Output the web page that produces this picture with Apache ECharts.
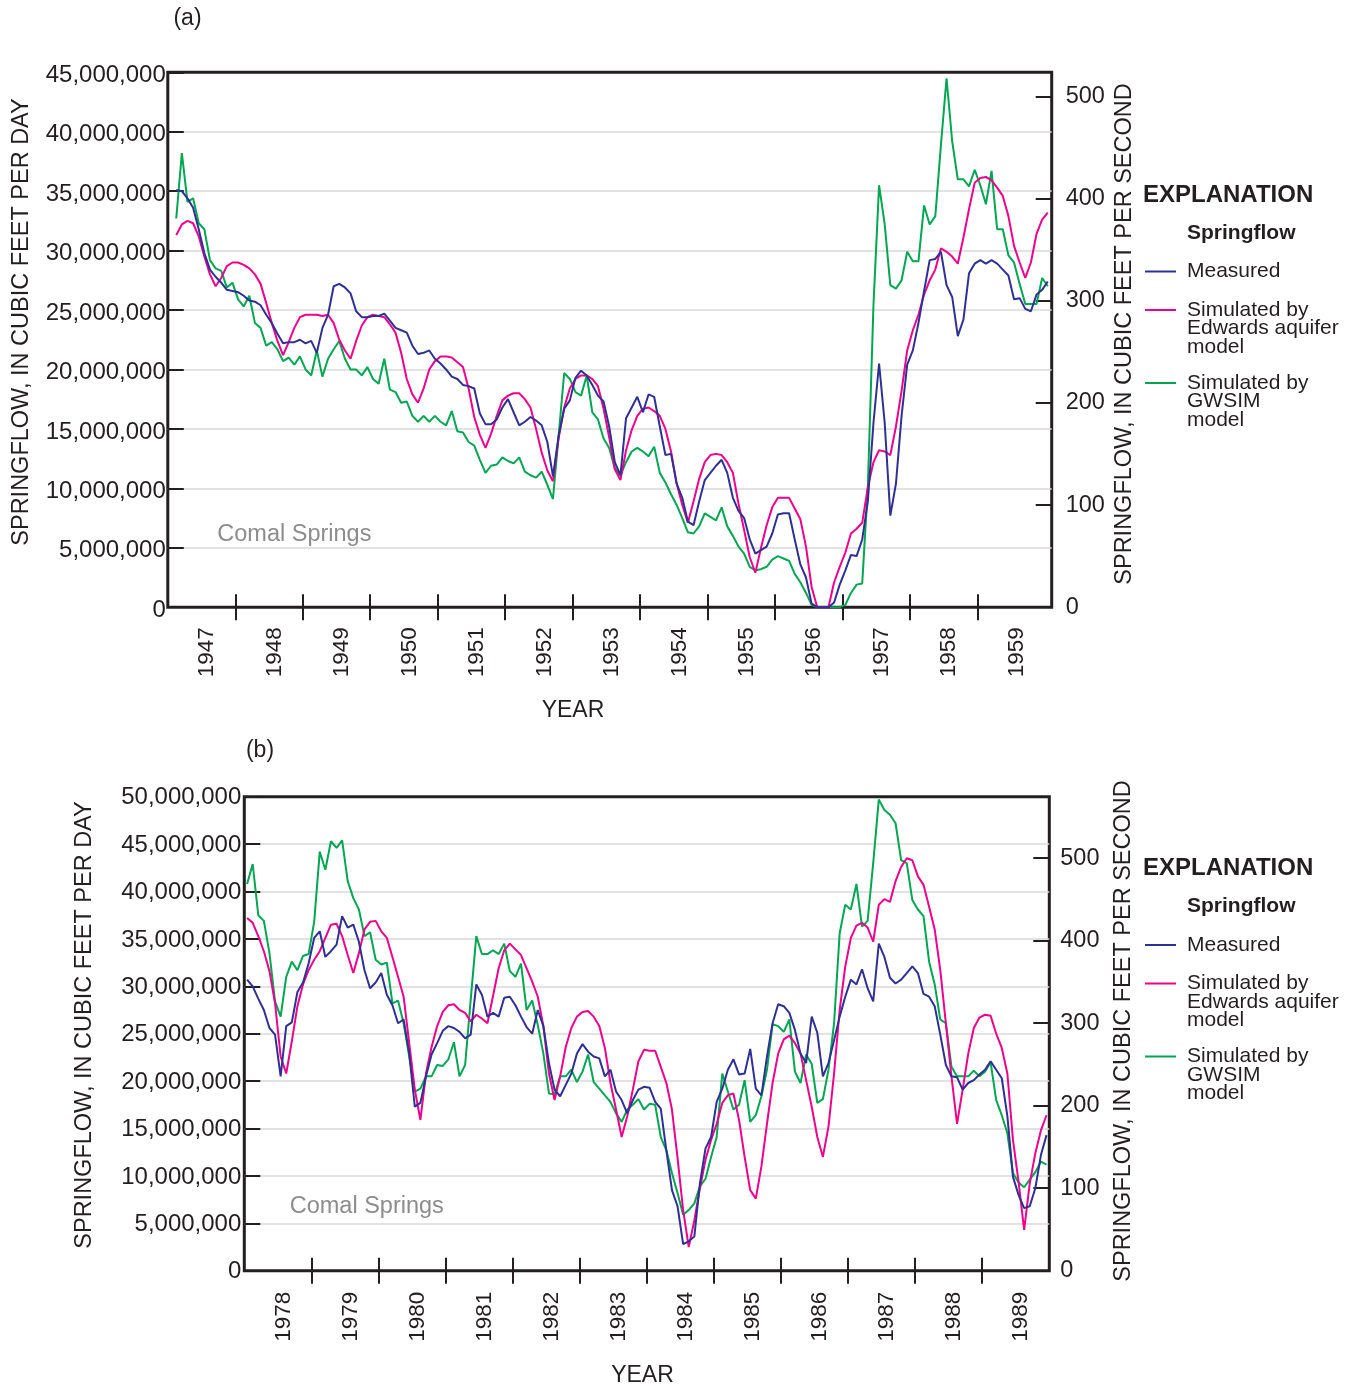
<!DOCTYPE html>
<html>
<head>
<meta charset="utf-8">
<script src="https://cdn.jsdelivr.net/npm/echarts@6.0.0/dist/echarts.min.js"></script>
<style>
html,body{margin:0;padding:0;background:#ffffff;}
#chart{width:1353px;height:1389px;}
</style>
</head>
<body>
<div id="chart"></div>
<script>
// ---------------- DATA (springflow, million cubic feet per day, monthly) ----------------
// Panel (a): Comal Springs, 1947-1959
const aYears = [1947,1948,1949,1950,1951,1952,1953,1954,1955,1956,1957,1958,1959];
const aStart = 1947 + 1.5 / 12;   // first monthly value (Feb 1947)
const aMeasured = [
35.1,35.0,34.4,33.6,31.8,29.8,28.4,27.8,27.3,26.7,26.6,26.5,26.2,25.8,25.7,25.4,24.6,23.9,23.0,22.2,
22.3,22.3,22.5,22.2,22.4,21.4,23.5,24.6,27.0,27.2,26.9,26.4,24.9,24.4,24.4,24.5,24.5,24.7,24.1,23.5,
23.3,23.1,22.0,21.3,21.4,21.6,20.9,20.5,20.0,19.4,19.2,18.7,18.6,18.4,16.3,15.4,15.4,15.8,16.8,17.5,
16.4,15.3,15.6,16.0,15.7,15.3,13.9,11.0,14.4,16.7,17.4,19.3,19.9,19.5,18.7,17.8,17.3,
15.2,12.2,11.1,15.9,16.8,17.7,16.4,17.9,17.7,15.2,12.8,12.9,10.4,9.2,7.2,6.9,8.9,10.7,11.3,11.9,
12.4,11.3,9.2,8.1,7.5,5.7,4.5,4.8,5.1,6.2,7.8,7.9,7.9,5.7,3.6,2.5,0.3,0,0,0,
0.4,1.9,3.1,4.4,4.3,5.7,8.9,15.5,20.5,15.5,7.7,10.4,16.1,20.4,21.6,23.9,26.6,29.2,29.3,29.9,
27.1,26.1,22.8,24.2,28.1,28.9,29.2,28.9,29.2,28.9,28.4,27.9,25.9,26.0,25.1,24.9,26.3,26.7,27.4
];
const aEdwards = [
31.3,32.2,32.5,32.3,31.2,29.5,28.0,27.0,27.7,28.7,29.0,29.0,28.8,28.5,28.0,27.2,25.6,23.9,22.4,21.2,
22.3,23.5,24.4,24.6,24.6,24.6,24.5,24.6,23.9,22.5,21.6,20.9,22.4,23.7,24.4,24.6,24.5,24.4,23.8,23.1,
21.4,19.2,17.9,17.2,18.4,20.0,20.7,21.1,21.1,21.0,20.6,20.2,18.4,16.0,14.5,13.4,14.6,16.1,17.4,17.8,
18.0,18.0,17.5,16.8,15.0,13.0,11.5,10.6,14.2,16.8,18.4,19.2,19.5,19.5,19.2,18.6,16.7,
14.3,11.6,10.7,13.2,14.9,16.1,16.7,16.8,16.5,16.1,15.0,13.1,10.4,8.6,7.1,8.9,10.8,12.2,12.8,12.9,
12.8,12.2,11.3,8.7,6.5,4.2,2.9,5.0,6.9,8.4,9.2,9.2,9.2,8.3,7.4,5.1,1.7,0,0,0,
2.1,3.4,4.6,6.2,6.6,7.1,10.1,12.2,13.2,13.1,12.8,15.2,18.2,21.6,23.3,24.6,26.3,27.5,28.4,30.2,
29.9,29.5,28.9,31.1,33.5,35.7,36.1,36.2,35.9,35.3,34.6,32.9,30.4,29.0,27.7,29.0,31.4,32.6,33.2
];
const aGwsim = [
32.7,38.2,34.1,34.4,32.3,31.8,29.2,28.5,28.3,26.9,27.3,25.9,25.3,26.2,23.9,23.5,22.0,22.3,21.7,20.7,
21.0,20.4,21.1,20.0,19.5,21.6,19.4,20.9,21.7,22.4,20.9,20.0,20.0,19.5,20.2,19.2,18.8,20.9,18.3,18.1,
17.2,17.3,16.1,15.6,16.1,15.6,16.1,15.6,15.3,16.5,14.8,14.7,13.9,13.6,12.4,11.3,11.9,12.0,12.6,12.3,
12.1,12.6,11.4,11.1,10.9,11.4,10.3,9.1,14.4,19.7,19.2,18.1,17.8,19.5,16.4,15.8,14.2,
13.4,11.7,11.1,12.2,13.1,13.4,13.1,12.7,13.5,11.3,10.5,9.5,8.6,7.5,6.3,6.2,6.8,7.9,7.6,7.3,
8.4,6.8,6.0,5.1,4.5,3.4,3.1,3.2,3.4,4.0,4.3,4.1,3.9,2.8,2.1,1.2,0.2,0,0,0,
0,0,0.2,1.2,1.9,2.0,10.1,25.4,35.5,32.2,27.1,26.8,27.5,29.9,29.1,29.1,33.8,32.2,32.9,38.9,
44.5,39.2,36.0,36.0,35.4,36.8,35.5,33.9,36.7,31.8,31.8,29.6,29.0,27.2,25.5,25.5,25.5,27.7,27.0
];

// Panel (b): Comal Springs, 1978-1989
const bYears = [1978,1979,1980,1981,1982,1983,1984,1985,1986,1987,1988,1989];
const bStart = 1978 + 0.5 / 12;   // first monthly value (Jan 1978)
const bMeasured = [
30.7,30.0,28.7,27.5,25.6,24.9,20.5,25.8,26.2,29.4,30.4,32.4,35.1,35.8,33.1,33.7,34.4,37.4,36.2,36.5,
34.7,31.7,29.8,30.4,31.4,29.1,28.0,26.1,26.5,22.9,17.3,17.7,20.5,22.8,24.0,25.3,25.8,25.6,25.2,24.5,
24.9,30.2,29.1,26.8,27.2,26.8,28.8,28.9,28.0,26.8,25.7,25.0,27.5,25.8,21.9,19.1,18.4,19.6,20.8,22.9,
23.9,23.1,22.6,22.4,20.5,21.2,18.9,18.0,16.6,18.0,19.1,19.4,19.3,17.8,17.1,12.7,8.5,6.8,2.8,3.1,
3.6,9.2,12.9,14.1,17.8,19.2,21.2,22.3,20.7,20.8,23.4,19.2,18.5,22.6,26.1,28.1,27.9,27.2,25.4,22.9,
21.9,26.8,25.1,20.5,21.9,24.3,26.8,28.9,30.7,30.2,31.8,29.8,28.4,34.5,33.1,30.9,30.3,30.7,31.4,32.1,
31.4,29.2,28.9,27.9,24.9,21.7,20.5,20.4,19.1,19.8,20.1,20.7,21.2,22.1,21.2,20.3,16.3,9.9,8.0,6.6,
6.8,8.7,12.2,14.3
];
const bEdwards = [
37.2,36.7,35.3,33.7,31.6,28.2,22.6,20.8,24.2,27.9,30.2,31.7,32.8,33.7,35.1,36.5,36.6,35.3,33.3,31.4,
33.5,36.0,36.8,36.9,35.8,35.1,33.1,31.0,28.9,24.0,19.1,15.9,20.8,23.6,25.8,27.3,28.0,28.1,27.5,27.2,
26.3,27.0,26.6,26.1,29.0,31.9,33.8,34.5,33.9,33.3,31.9,30.5,28.9,25.8,20.8,18.0,20.5,23.6,25.6,26.8,
27.3,27.4,26.8,25.8,23.5,19.8,17.0,14.1,16.3,19.1,22.1,23.3,23.2,23.2,21.5,19.8,17.0,11.9,6.4,2.5,
5.3,8.7,11.7,13.8,15.5,17.7,18.5,18.7,15.9,12.0,8.5,7.6,11.0,15.5,19.8,22.9,24.4,24.8,24.0,22.9,
20.1,17.3,14.1,12.0,15.2,20.8,27.5,32.1,35.1,36.4,36.7,36.2,34.7,38.6,39.2,38.9,41.1,42.6,43.5,43.3,
41.6,40.7,38.4,36.0,31.7,26.1,20.5,15.5,19.1,22.9,25.6,26.7,27.0,26.9,25.0,23.5,20.8,13.8,9.4,4.3,
9.2,12.4,14.8,16.4
];
const bGwsim = [
40.8,42.9,37.5,36.9,33.5,28.4,26.8,31.0,32.6,31.7,33.2,33.4,36.8,44.2,42.3,45.3,44.6,45.4,41.1,39.3,
38.1,35.3,35.7,32.8,32.3,32.5,28.2,28.5,26.1,22.6,18.9,19.2,20.5,20.5,21.7,21.6,22.3,24.1,20.5,21.7,
28.6,35.3,33.4,33.4,33.8,33.4,34.5,31.6,31.0,32.4,27.5,28.5,25.9,22.9,18.7,18.6,20.5,20.5,21.2,19.9,
21.0,22.8,19.9,19.2,18.5,17.8,16.6,15.7,17.0,17.5,18.1,17.0,17.6,17.5,14.1,12.7,10.3,8.2,5.9,6.4,
7.1,8.9,9.7,12.0,14.1,20.8,18.9,17.0,17.5,20.1,15.7,16.4,18.4,21.2,26.0,25.8,25.2,26.5,21.0,19.8,
22.8,21.8,17.7,18.1,21.2,26.1,35.6,38.6,38.1,40.8,36.3,36.9,43.0,49.7,48.6,48.1,47.2,43.3,43.0,39.1,
38.1,37.4,32.6,30.2,26.5,26.1,21.5,20.5,20.5,20.5,21.1,20.5,21.0,22.0,18.0,16.4,14.5,10.3,9.3,8.8,
9.6,10.4,11.5,11.2
];

const cfsTicks = [0, 100, 200, 300, 400, 500];           // cubic feet per second
const seriesNames = ['Measured', 'Simulated by Edwards aquifer model', 'Simulated by GWSIM model'];

// ---------------- STYLE ----------------
const FF = '"Liberation Sans", Arial, Helvetica, sans-serif';
const INK = '#231f20';
const COLORS = ['#2e3192', '#ec008c', '#00a651'];

function pairs(start, vals) { return vals.map((v, i) => [start + i / 12, v]); }
function commas(n) { return String(Math.round(n)).replace(/\B(?=(\d{3})+(?!\d))/g, ','); }

const panels = [
  { grid: { left: 167.8, top: 72.3, width: 883.9, height: 534.9 },
    xmin: 1947, xmax: 1960.1, years: aYears, ymax: 45, cfsMax: 523.5, start: aStart,
    data: [aMeasured, aEdwards, aGwsim], leftMargin: 2, leftDrop: 6, rightMargin: 14, yearMargin: 20 },
  { grid: { left: 244.3, top: 796.7, width: 805, height: 474 },
    xmin: 1978, xmax: 1990, years: bYears, ymax: 50, cfsMax: 574.5, start: bStart,
    data: [bMeasured, bEdwards, bGwsim], leftMargin: 3, leftDrop: 2, rightMargin: 11, yearMargin: 21 }
];

const grids = [], xAxes = [], yAxes = [], series = [];
panels.forEach((p, gi) => {
  grids.push(Object.assign({ show: true, borderColor: INK, borderWidth: 3, backgroundColor: 'transparent' }, p.grid));
  const tickYears = p.years.slice(1);
  const labelYears = p.years.map(y => y + 0.5);
  const tickStyle = { color: INK, width: 2 };
  // bottom axis: ticks at year boundaries, labels at mid-year
  xAxes.push({
    type: 'value', gridIndex: gi, position: 'bottom', min: p.xmin, max: p.xmax,
    axisLine: { show: false },
    axisTick: { show: true, inside: true, length: 13, lineStyle: tickStyle, customValues: tickYears },
    axisLabel: { show: true, customValues: labelYears, rotate: 90, margin: p.yearMargin,
      verticalAlign: 'top', lineHeight: 11,
      formatter: v => String(Math.floor(v)), color: INK, fontFamily: FF, fontSize: 22.5 },
    splitLine: { show: false }
  });
  // top axis: ticks only
  xAxes.push({
    type: 'value', gridIndex: gi, position: 'top', min: p.xmin, max: p.xmax,
    axisLine: { show: false },
    axisTick: { show: true, inside: true, length: 13, lineStyle: tickStyle, customValues: tickYears },
    axisLabel: { show: false },
    splitLine: { show: false }
  });
  // left axis: cubic feet per day
  yAxes.push({
    type: 'value', gridIndex: gi, position: 'left', min: 0, max: p.ymax, interval: 5,
    axisLine: { show: false },
    axisTick: { show: true, inside: true, length: 16, lineStyle: tickStyle },
    axisLabel: { margin: p.leftMargin, verticalAlign: 'top', lineHeight: p.leftDrop,
      formatter: v => commas(v * 1e6), color: INK, fontFamily: FF, fontSize: 24 },
    splitLine: { show: true, showMinLine: false, showMaxLine: false, lineStyle: { color: '#d8d8d8', width: 1.5 } }
  });
  // right axis: cubic feet per second
  yAxes.push({
    type: 'value', gridIndex: gi, position: 'right', min: 0, max: p.cfsMax,
    axisLine: { show: false },
    axisTick: { show: true, inside: true, length: 16, lineStyle: tickStyle, customValues: cfsTicks },
    axisLabel: { customValues: cfsTicks, margin: p.rightMargin, formatter: v => String(v), color: INK, fontFamily: FF, fontSize: 23.5 },
    splitLine: { show: false }
  });
  // series: draw GWSIM first, then Edwards, Measured on top
  [2, 1, 0].forEach(si => {
    series.push({
      type: 'line', name: seriesNames[si], xAxisIndex: gi * 2, yAxisIndex: gi * 2,
      data: pairs(p.start, p.data[si]), showSymbol: false, symbol: 'none',
      lineStyle: { color: COLORS[si], width: 2 }, itemStyle: { color: COLORS[si] },
      z: 3 + (2 - si), animation: false
    });
  });
});

// ---------------- TEXT / LEGEND (graphic) ----------------
function txt(text, x, y, opt) {
  opt = opt || {};
  const size = opt.size || 23;
  return {
    type: 'text', x: x, y: y, rotation: opt.rot || 0, z: 100,
    style: {
      text: text, fill: opt.color || INK,
      font: (opt.bold ? 'bold ' : '') + size + 'px ' + FF,
      align: opt.align || 'center', verticalAlign: opt.va || 'middle',
      textAlign: opt.align || 'center', textVerticalAlign: opt.va || 'middle',
      lineHeight: opt.lh || undefined
    }
  };
}
function legend(dy) {
  const els = [];
  els.push(txt('EXPLANATION', 1143, 195 + dy, { bold: true, size: 24, align: 'left' }));
  els.push(txt('Springflow', 1187, 233 + dy, { bold: true, size: 21, align: 'left' }));
  const rows = [
    { y: 271.5, text: 'Measured' },
    { y: 310, text: 'Simulated by\nEdwards aquifer\nmodel' },
    { y: 383, text: 'Simulated by\nGWSIM\nmodel' }
  ];
  rows.forEach((r, i) => {
    els.push({ type: 'line', z: 100, shape: { x1: 1145, y1: r.y + dy, x2: 1176, y2: r.y + dy },
      style: { stroke: COLORS[i], lineWidth: 2 } });
    els.push(txt(r.text, 1187, r.y + dy - 9.2, { size: 21, align: 'left', va: 'top', lh: 18.4 }));
  });
  return els;
}
const graphics = [
  txt('(a)', 187.5, 19),
  txt('(b)', 260, 751),
  txt('SPRINGFLOW, IN CUBIC FEET PER DAY', 22, 322, { rot: Math.PI / 2, size: 23.5 }),
  txt('SPRINGFLOW, IN CUBIC FEET PER SECOND', 1125, 334, { rot: Math.PI / 2, size: 23.5 }),
  txt('YEAR', 573, 710.5),
  txt('SPRINGFLOW, IN CUBIC FEET PER DAY', 84.5, 1025, { rot: Math.PI / 2, size: 23.5 }),
  txt('SPRINGFLOW, IN CUBIC FEET PER SECOND', 1124, 1031, { rot: Math.PI / 2, size: 23.5 }),
  txt('YEAR', 642.5, 1376),
  txt('Comal Springs', 217.3, 535, { align: 'left', color: '#8c8c8c', size: 23.5 }),
  txt('Comal Springs', 289.7, 1207, { align: 'left', color: '#8c8c8c', size: 23.5 })
].concat(legend(0), legend(673.5));

const chart = echarts.init(document.getElementById('chart'), null, { renderer: 'canvas' });
chart.setOption({
  animation: false,
  backgroundColor: '#ffffff',
  textStyle: { fontFamily: FF },
  grid: grids,
  xAxis: xAxes,
  yAxis: yAxes,
  series: series,
  graphic: graphics
});
</script>
</body>
</html>
